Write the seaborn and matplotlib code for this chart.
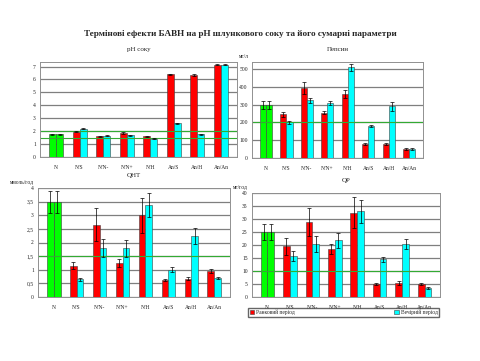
import numpy as np
import pandas as pd
import matplotlib
matplotlib.use("Agg")
import matplotlib.pyplot as plt
from matplotlib.patches import Patch
import seaborn as sns

sns.set_style("white")
plt.rcParams['font.family'] = ['Liberation Serif', 'DejaVu Serif']

# ===DATA===
cats = ["N", "N/S", "N/N-", "N/N+", "N/H", "An/S", "An/H", "An/An"]
periods = ["Ранковий період", "Вечірній період"]

ph_morning = [1.75, 1.95, 1.6, 1.85, 1.6, 6.4, 6.35, 7.15]
ph_evening = [1.75, 2.2, 1.65, 1.7, 1.4, 2.6, 1.75, 7.15]
ph_err_m = [0.04, 0.05, 0.04, 0.05, 0.04, 0.05, 0.05, 0.05]
ph_err_e = [0.04, 0.06, 0.04, 0.04, 0.04, 0.06, 0.05, 0.05]

pep_morning = [300, 245, 395, 255, 360, 80, 80, 50]
pep_evening = [300, 200, 325, 310, 510, 180, 290, 50]
pep_err_m = [22, 12, 35, 8, 25, 5, 5, 4]
pep_err_e = [22, 10, 15, 12, 18, 5, 25, 4]

qht_morning = [3.5, 1.15, 2.65, 1.25, 3.0, 0.62, 0.67, 0.95]
qht_evening = [3.5, 0.65, 1.8, 1.78, 3.38, 1.0, 2.25, 0.7]
qht_err_m = [0.4, 0.12, 0.6, 0.15, 0.65, 0.04, 0.05, 0.06]
qht_err_e = [0.4, 0.06, 0.33, 0.3, 0.45, 0.1, 0.3, 0.05]

qp_morning = [25, 19.5, 28.8, 18.5, 32.5, 5.0, 5.5, 5.0]
qp_evening = [25, 15.8, 20.5, 21.8, 33.0, 14.5, 20.3, 3.5]
qp_err_m = [3, 3.2, 5.5, 2, 6, 0.5, 0.7, 0.3]
qp_err_e = [3, 2, 3, 3, 4.5, 1, 2, 0.3]

# ===PANELS===
W, H = 480, 361
fig = plt.figure(figsize=(W / 100, H / 100), dpi=100)


def ax_px(l, t, r, b):
    return fig.add_axes([l / W, 1 - b / H, (r - l) / W, (b - t) / H])


panels = [
    (ax_px(40, 62, 237, 157), ph_morning, ph_evening, ph_err_m, ph_err_e,
     "pH соку", "", (0, 7.35), np.arange(0, 8, 1), [2.0, 1.45], lambda v: f"{v:g}"),
    (ax_px(252, 62, 423, 158), pep_morning, pep_evening, pep_err_m, pep_err_e,
     "Пепсин", "мг/л", (0, 540), np.arange(0, 600, 100), [200], lambda v: f"{v:g}"),
    (ax_px(38, 188, 230, 297), qht_morning, qht_evening, qht_err_m, qht_err_e,
     "QHT", "ммоль/год", (0, 4), np.arange(0, 4.5, 0.5), [1.5],
     lambda v: f"{v:g}".replace(".", ",")),
    (ax_px(252, 193, 440, 297), qp_morning, qp_evening, qp_err_m, qp_err_e,
     "QP", "мг/год", (0, 40), np.arange(0, 45, 5), [10], lambda v: f"{v:g}"),
]

for ax, m, e, em, ee, title, unit, ylim, ticks, glines, fmt in panels:
    df = pd.DataFrame({
        "cat": cats * 2,
        "val": m + e,
        "period": [periods[0]] * 8 + [periods[1]] * 8,
    })
    sns.barplot(data=df, x="cat", y="val", hue="period", order=cats,
                hue_order=periods, palette=["#FF0000", "#00FFFF"],
                saturation=1, errorbar=None, width=0.6, gap=0, ax=ax,
                edgecolor="#404040", linewidth=0.4, legend=False)
    bars = ax.patches[:16]
    errs = em + ee
    for i, p in enumerate(bars):
        if i % 8 == 0:
            p.set_facecolor("#00FF00")
        ax.errorbar(p.get_x() + p.get_width() / 2, p.get_height(), yerr=errs[i],
                    color="black", lw=0.5, capsize=1.2, capthick=0.5, zorder=4)
    ax.set_ylim(*ylim)
    ax.set_yticks(ticks)
    ax.set_yticklabels([fmt(v) for v in ticks])
    ax.yaxis.grid(True, color="#7f7f7f", lw=0.9)
    ax.set_axisbelow(True)
    for gl in glines:
        ax.axhline(gl, color="#33aa33", lw=0.8, zorder=1.5)
    for s in ax.spines.values():
        s.set_color("#909090")
        s.set_linewidth(0.7)
    ax.tick_params(axis="both", labelsize=4, length=1.5, width=0.5, pad=1.5,
                   colors="#222222")
    ax.tick_params(axis="x", pad=4)
    ax.set_xlabel("")
    ax.set_ylabel("")
    ax.set_title(title, fontsize=5, pad=8)
    if unit:
        ax.text(-0.02, 1.03, unit, transform=ax.transAxes, fontsize=4,
                ha="right", va="bottom")

fig.text(0.5, 1 - 34 / H, "Термінові ефекти БАВН на pH шлункового соку та його сумарні параметри",
         ha="center", va="center", fontsize=6.6, fontweight="bold")

handles = [Patch(facecolor="#FF0000", edgecolor="#404040", lw=0.4),
           Patch(facecolor="#00FFFF", edgecolor="#404040", lw=0.4)]
fig.legend(handles, periods, loc="center", ncol=2, fontsize=4,
           bbox_to_anchor=((255 + 432) / 2 / W, 1 - 312.5 / H),
           frameon=True, fancybox=False, edgecolor="#404040",
           handlelength=0.8, handleheight=0.8, columnspacing=18,
           borderpad=0.3, handletextpad=0.3)

fig.savefig("out.png", dpi=100)
